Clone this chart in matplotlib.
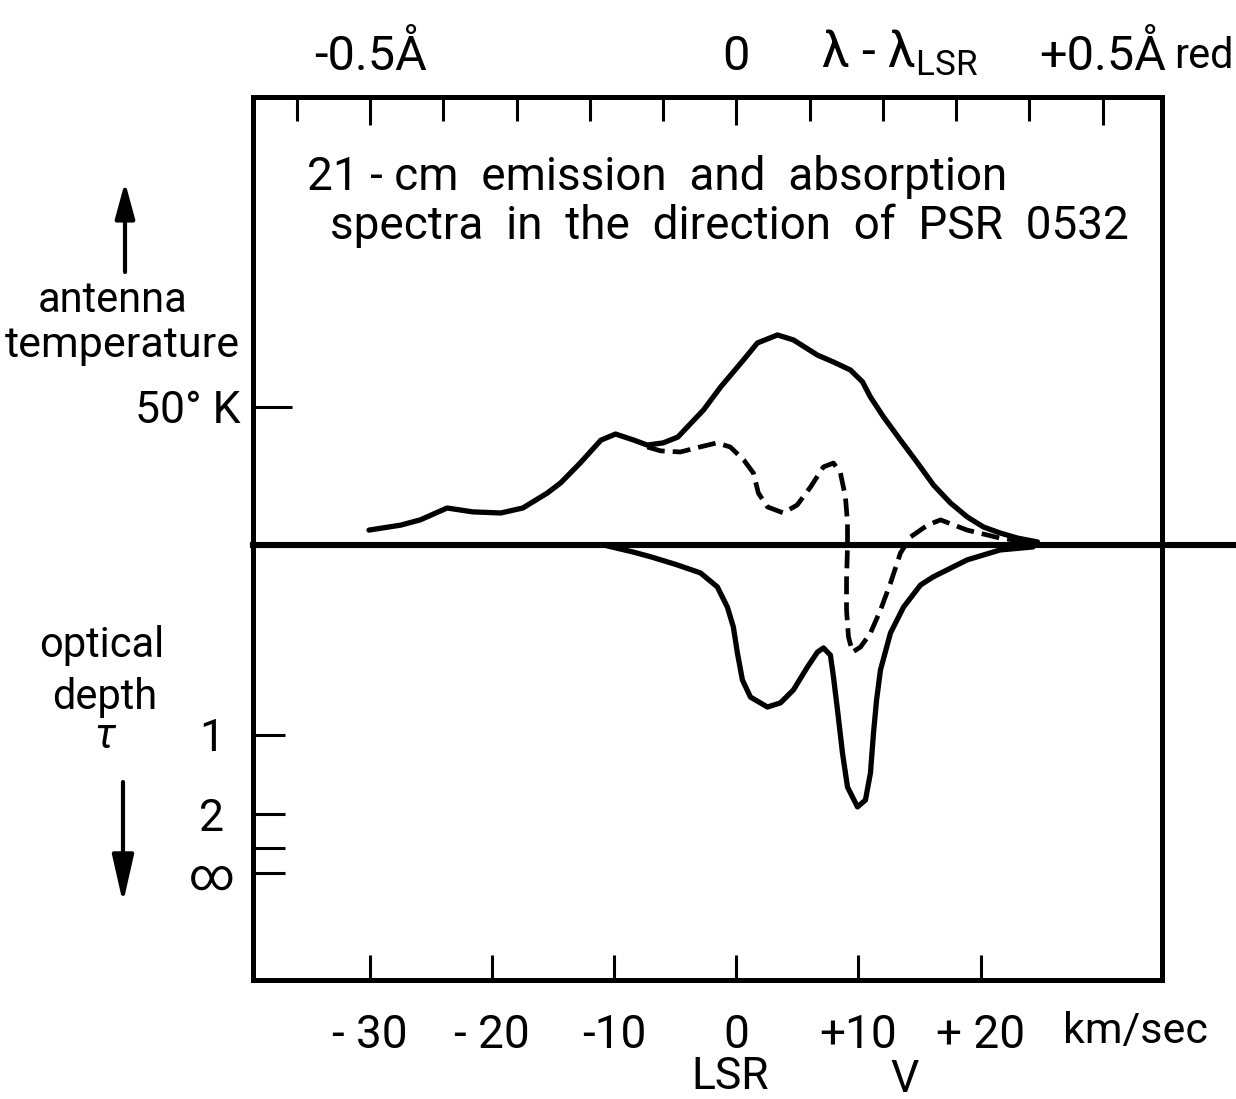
import matplotlib
matplotlib.use("Agg")
import matplotlib.pyplot as plt

plt.rcParams['font.family'] = ['Roboto', 'DejaVu Sans']
plt.rcParams['mathtext.fontset'] = 'custom'
plt.rcParams['mathtext.rm'] = 'Roboto'
plt.rcParams['mathtext.it'] = 'Roboto'

# emission profile: LSR velocity (km/s) and antenna temperature (K)
v_emis = [-30.1, -27.5, -25.9, -23.7, -21.6, -19.3, -17.5, -15.5, -14.4, -12.8,
          -11.1, -9.9, -8.4, -7.3, -6.0, -4.8, -2.7, -1.3, 0.57, 1.72,
          3.36, 4.67, 6.64, 7.95, 9.34, 10.33, 10.98, 12.05, 13.44, 14.84,
          16.15, 17.54, 18.93, 20.25, 21.64, 23.03, 24.67]
t_emis = [5.4, 7.2, 9.1, 13.4, 12.0, 11.6, 13.4, 18.8, 22.5, 29.7,
          38.0, 40.2, 38.0, 36.2, 37.0, 39.1, 48.9, 57.2, 67.0, 73.2,
          76.1, 74.3, 68.8, 66.3, 63.4, 59.1, 53.6, 46.4, 38.0, 29.7,
          21.7, 15.2, 10.1, 6.5, 4.3, 2.5, 1.1]

# emission spectrum with absorption (dashed)
v_dash = [-7.3, -6.2, -4.6, -3.0, -1.6, -0.5, 0.6, 1.39, 1.80, 2.54,
          3.85, 4.98, 6.07, 7.13, 7.95, 8.52, 8.93, 9.10, 9.10, 9.02,
          9.02, 9.18, 9.51, 10.16, 10.98, 11.80, 12.62, 13.44, 14.26, 15.66,
          16.72, 18.9, 21.6, 23.9]
t_dash = [35.5, 34.1, 33.7, 35.5, 37.0, 35.5, 30.8, 26.1, 18.8, 13.8,
          11.6, 14.5, 21.0, 28.3, 29.7, 26.1, 17.4, 8.0, -0.7, -12.7,
          -23.6, -33.3, -38.8, -37.0, -31.9, -23.6, -13.8, -2.9, 2.9, 7.2,
          9.1, 5.4, 2.5, 1.1]

# absorption profile, drawn below the baseline
v_abs = [-10.6, -8.5, -7.0, -5.0, -2.95, -1.56, -0.74, -0.25, 0.08, 0.49,
         1.15, 2.54, 3.61, 4.67, 5.82, 6.64, 7.13, 7.70, 7.95, 8.28,
         8.69, 9.10, 9.92, 10.57, 10.98, 11.23, 11.48, 11.80, 12.62, 13.69,
         15.08, 16.1, 18.9, 21.6, 24.3]
d_abs = [0.3, 2.5, 4.3, 7.0, 10.1, 15.2, 22.5, 29.7, 39.1, 48.9,
         55.1, 58.7, 57.2, 52.5, 44.2, 38.8, 37.3, 39.9, 47.8, 59.8,
         75.4, 87.7, 94.9, 92.4, 82.6, 68.1, 56.2, 45.3, 31.9, 22.5,
         14.5, 11.6, 5.4, 1.8, 0.7]

vel_ticks = [-30, -20, -10, 0, 10, 20]
vel_labels = ["- 30", "- 20", "-10", "0", "+10", "+ 20"]
wl_major = [-0.5, 0.0, 0.5]
wl_labels = ["-0.5Å", "0", "+0.5Å"]
wl_minor = [-0.6, -0.4, -0.3, -0.2, -0.1, 0.1, 0.2, 0.3, 0.4]
tau_pos = [-68.8, -97.5, -109.8, -118.8]
tau_labels = ["1", "2", "", "∞"]

fig = plt.figure(figsize=(12.36, 10.99), dpi=100)
ax = fig.add_axes([0.2047, 0.1083, 0.7352, 0.8034])
ax.set_xlim(-39.6, 34.84)
ax.set_ylim(-157.6, 162.3)

for s in ax.spines.values():
    s.set_linewidth(3.6)

lw = 3.8
ax.plot(v_emis, t_emis, color='black', lw=lw, solid_capstyle='round', solid_joinstyle='round')
ax.plot(v_dash, t_dash, color='black', lw=3.4, dashes=(3.8, 1.7))
ax.plot(v_abs, [-d for d in d_abs], color='black', lw=lw, solid_capstyle='round',
        solid_joinstyle='round')
# baseline runs past the frame
ax.plot([-39.6, 41.5], [0, 0], color='black', lw=4.4, clip_on=False)

# bottom velocity axis
ax.set_xticks(vel_ticks, labels=vel_labels)
ax.tick_params(axis='x', direction='in', length=18, width=2.2, labelsize=33, pad=24,
               top=False)

# left axis: temperature above, optical depth below
ax.set_yticks([50], labels=["50° K"])
ax.set_yticks(tau_pos, labels=tau_labels, minor=True)
ax.tick_params(axis='y', which='major', direction='in', length=28, width=2.2,
               labelsize=32, pad=9)
ax.tick_params(axis='y', which='minor', direction='in', length=23, width=2.2,
               labelsize=32, pad=30)
for lab in ax.yaxis.get_minorticklabels():
    lab.set_horizontalalignment('center')

# top wavelength axis, 60 km/s per angstrom
sec = ax.secondary_xaxis('top', functions=(lambda v: v / 60.0, lambda w: w * 60.0))
sec.spines['top'].set_visible(False)
sec.set_xticks(wl_major, labels=wl_labels)
sec.set_xticks(wl_minor, minor=True)
sec.tick_params(which='major', direction='in', length=20, width=2.2, labelsize=35, pad=12)
sec.tick_params(which='minor', direction='in', length=17, width=2.2)

fig.text(900 / 1236, 1 - 68 / 1099, "λ - λ$_{\\mathrm{LSR}}$", fontsize=36,
         ha='center', va='baseline')
fig.text(1234 / 1236, 1 - 68 / 1099, "red", fontsize=30, ha='right', va='baseline')

ax.text(-35.2, 133.3, "21 - cm  emission  and  absorption", fontsize=33, va='center')
ax.text(-33.3, 115.6, "spectra  in  the  direction  of  PSR  0532", fontsize=33,
        va='center')

fig.text(1135 / 1236, 1 - 1032 / 1099, "km/sec", fontsize=31, ha='center', va='center')
fig.text(730 / 1236, 1 - 1077 / 1099, "LSR", fontsize=32, ha='center', va='center')
fig.text(905 / 1236, 1 - 1080 / 1099, "V", fontsize=32, ha='center', va='center')

fig.text(113 / 1236, 1 - 300 / 1099, "antenna", fontsize=30, ha='center', va='center')
fig.text(122 / 1236, 1 - 345 / 1099, "temperature", fontsize=31, ha='center', va='center')
fig.text(102 / 1236, 1 - 645 / 1099, "optical", fontsize=30, ha='center', va='center')
fig.text(105 / 1236, 1 - 697 / 1099, "depth", fontsize=30, ha='center', va='center')
fig.text(105 / 1236, 1 - 737 / 1099, "τ", fontsize=30, ha='center', va='center',
         style='italic')

ax.annotate("", xy=(125 / 1236, 1 - 182 / 1099), xytext=(125 / 1236, 1 - 272 / 1099),
            xycoords='figure fraction', textcoords='figure fraction', annotation_clip=False,
            arrowprops=dict(arrowstyle='-|>,head_length=1.1,head_width=0.3', color='black',
                            lw=3, mutation_scale=20, shrinkA=0, shrinkB=0))
ax.annotate("", xy=(123 / 1236, 1 - 903 / 1099), xytext=(123 / 1236, 1 - 782 / 1099),
            xycoords='figure fraction', textcoords='figure fraction', annotation_clip=False,
            arrowprops=dict(arrowstyle='-|>,head_length=1.45,head_width=0.33', color='black',
                            lw=3, mutation_scale=20, shrinkA=0, shrinkB=0))

fig.savefig("out.png", dpi=100)
